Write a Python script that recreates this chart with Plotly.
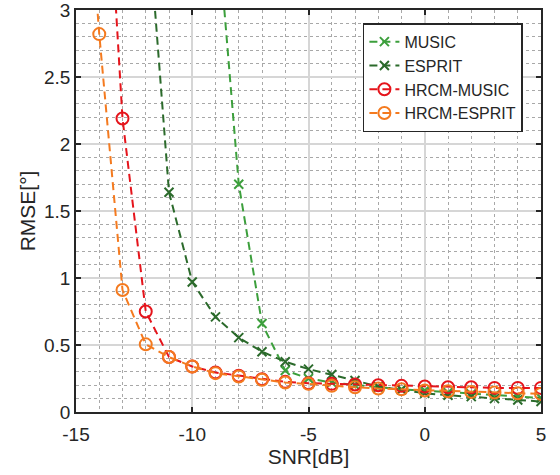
import plotly.graph_objects as go

snr = list(range(-15, 6))
music = [9.0, 8.0, 7.0, 6.0, 5.0, 4.6, 3.8, 1.70, 0.66, 0.31, 0.25, 0.22, 0.20, 0.185,
         0.17, 0.16, 0.145, 0.135, 0.125, 0.115, 0.105]
esprit = [8.0, 7.0, 5.0, 3.9, 1.64, 0.97, 0.71, 0.555, 0.45, 0.375, 0.32, 0.28, 0.235, 0.19,
          0.165, 0.14, 0.125, 0.115, 0.10, 0.09, 0.078]
hrcm_music = [7.0, 5.1, 2.19, 0.75, 0.41, 0.34, 0.295, 0.27, 0.245, 0.225, 0.215, 0.21, 0.205,
              0.20, 0.195, 0.19, 0.185, 0.185, 0.18, 0.18, 0.18]
hrcm_esprit = [5.1, 2.82, 0.91, 0.505, 0.41, 0.34, 0.29, 0.265, 0.24, 0.22, 0.21, 0.195, 0.185,
               0.175, 0.17, 0.16, 0.155, 0.15, 0.145, 0.14, 0.135]

names = ["MUSIC", "ESPRIT", "HRCM-MUSIC", "HRCM-ESPRIT"]
colors = ["#3c9f3c", "#2b6a2b", "#e5141b", "#f47a1f"]
symbols = ["x-thin-open", "x-thin-open", "circle-open", "circle-open"]
series = [music, esprit, hrcm_music, hrcm_esprit]

xtick_vals = [-15, -10, -5, 0, 5]
xtick_text = ["-15", "-10", "-5", "0", "5"]
ytick_vals = [0, 0.5, 1, 1.5, 2, 2.5, 3]
ytick_text = ["0", "0.5", "1", "1.5", "2", "2.5", "3"]

fig = go.Figure()
for name, col, sym, ys in zip(names, colors, symbols, series):
    fig.add_trace(go.Scatter(
        x=snr, y=ys, name=name, mode="lines+markers",
        line=dict(color=col, width=2, dash="8px,5px"),
        marker=dict(symbol=sym, size=12 if "circle" in sym else 9,
                    color=col, line=dict(color=col, width=2)),
    ))

font = "Arial, Liberation Sans, sans-serif"
axis_common = dict(
    showline=True, linecolor="#262626", linewidth=1.5, mirror="ticks",
    ticks="inside", ticklen=5, tickcolor="#262626", tickwidth=1.5,
    showgrid=True, gridcolor="#d6d6d6", gridwidth=1.5,
    zeroline=False, automargin=False, ticklabeloverflow="allow",
    tickfont=dict(family=font, size=19, color="#262626"),
)
fig.update_layout(
    width=560, height=475,
    margin=dict(l=76, r=19, t=10, b=63),
    paper_bgcolor="white", plot_bgcolor="white",
    font=dict(family=font, color="#262626"),
    showlegend=True,
    legend=dict(
        x=0.617, y=0.967, xanchor="left", yanchor="top",
        bgcolor="white", bordercolor="#262626", borderwidth=1.5,
        font=dict(family=font, size=16, color="#262626"),
        tracegroupgap=0, itemwidth=30,
    ),
    xaxis=dict(
        range=[-15, 5], tickvals=xtick_vals, ticktext=xtick_text,
        ticklabelstandoff=4,
        title=dict(text="SNR[dB]", font=dict(family=font, size=21, color="#262626"), standoff=2),
        minor=dict(dtick=1, tick0=0, showgrid=True, griddash="dot", gridcolor="#a8a8a8", gridwidth=1.2, ticks=""),
        **axis_common,
    ),
    yaxis=dict(
        range=[0, 3], tickvals=ytick_vals, ticktext=ytick_text,
        title=dict(text="RMSE[°]", font=dict(family=font, size=21, color="#262626"), standoff=3),
        minor=dict(dtick=0.1, tick0=0, showgrid=True, griddash="dot", gridcolor="#a8a8a8", gridwidth=1.2, ticks=""),
        **axis_common,
    ),
)
fig.write_html("out.html", config={"displayModeBar": False},
               post_script="document.body.style.margin='0';")
